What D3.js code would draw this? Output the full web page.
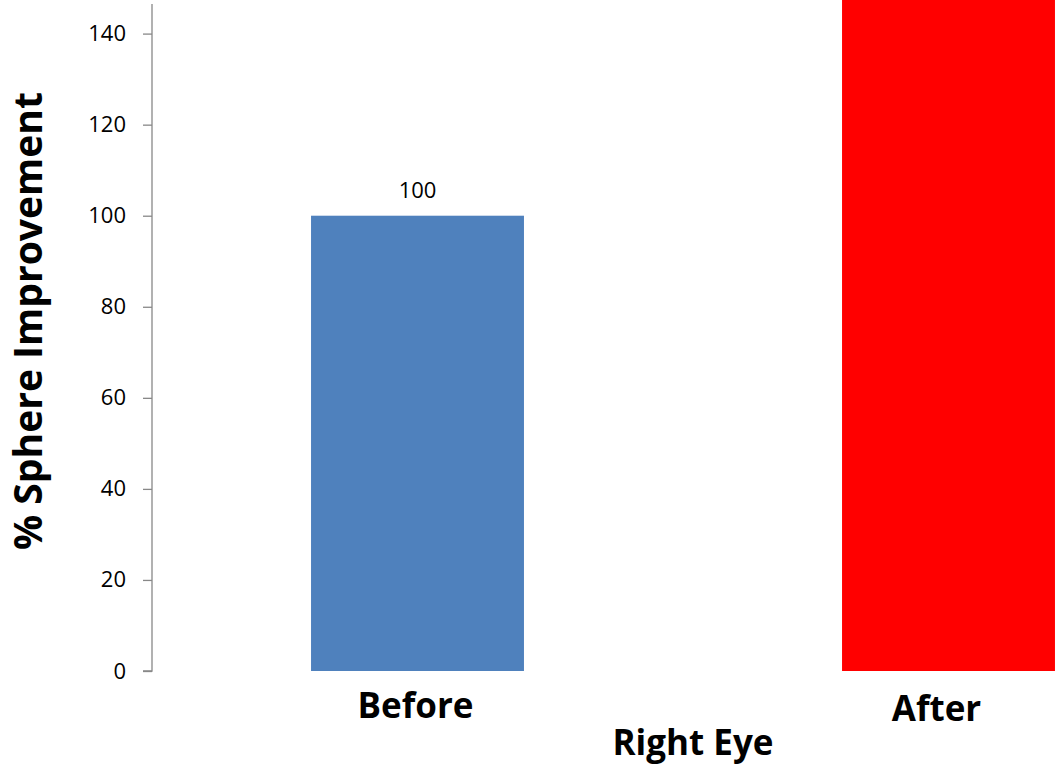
<!DOCTYPE html>
<html>
<head>
<meta charset="utf-8">
<script src="https://cdn.jsdelivr.net/npm/d3@7"></script>
<style>
  html, body { margin: 0; padding: 0; background: #fff; }
  svg { display: block; }
  text { font-family: "Open Sans", "Liberation Sans", sans-serif; fill: #000; }
</style>
</head>
<body>
<svg id="chart" width="1058" height="765"></svg>
<script>
// Data
const categories = ["Before", "After"];
const values = [100, 200];            // After bar exceeds the visible axis range
const barColors = ["#4F81BD", "#FF0000"];
const yTicks = [0, 20, 40, 60, 80, 100, 120, 140];
const dataLabels = ["100", ""];
const yTitle = "% Sphere Improvement";
const xTitle = "Right Eye";

const svg = d3.select("#chart");

const plotLeft = 152, plotBottom = 671, plotTop = 4;
const x = d3.scaleBand()
  .domain(categories)
  .range([plotLeft, plotLeft + 1062])
  .paddingInner(0.599)
  .paddingOuter(0.2995);

const y = d3.scaleLinear()
  .domain([0, 146.5])
  .range([plotBottom, plotTop]);

// Bars
svg.append("g").selectAll("rect")
  .data(categories)
  .join("rect")
  .attr("x", d => x(d))
  .attr("width", x.bandwidth())
  .attr("y", (d, i) => y(values[i]))
  .attr("height", (d, i) => y(0) - y(values[i]))
  .attr("fill", (d, i) => barColors[i]);

// Y axis
const yAxis = d3.axisLeft(y)
  .tickValues(yTicks)
  .tickSize(9)
  .tickPadding(17)
  .tickFormat(d3.format("d"));
const gy = svg.append("g")
  .attr("transform", `translate(${plotLeft},0)`)
  .call(yAxis);
gy.select(".domain").attr("stroke", "#888").attr("stroke-width", 1.3)
  .attr("d", `M0,${plotTop}V${plotBottom}H-9`);
gy.selectAll(".tick line").attr("stroke", "#888").attr("stroke-width", 1.3);
gy.selectAll(".tick text")
  .style("font-family", "'Open Sans', sans-serif")
  .style("font-size", "22px")
  .attr("fill", "#000");

// Data labels
svg.append("g").selectAll("text")
  .data(categories)
  .join("text")
  .attr("x", d => x(d) + x.bandwidth() / 2)
  .attr("y", (d, i) => y(values[i]) - 18)
  .attr("text-anchor", "middle")
  .style("font-size", "22px")
  .text((d, i) => dataLabels[i]);

// Category labels
const labelDx = [-2, -12];
const labelY = [718, 721];
svg.append("g").selectAll("text")
  .data(categories)
  .join("text")
  .attr("x", (d, i) => x(d) + x.bandwidth() / 2 + labelDx[i])
  .attr("y", (d, i) => labelY[i])
  .attr("text-anchor", "middle")
  .style("font-size", "35px")
  .style("font-weight", "bold")
  .text(d => d);

// X axis title
svg.append("text")
  .attr("x", 693)
  .attr("y", 755)
  .attr("text-anchor", "middle")
  .style("font-size", "35px")
  .style("font-weight", "bold")
  .text(xTitle);

// Y axis title
svg.append("text")
  .attr("transform", "translate(42,321) rotate(-90)")
  .attr("text-anchor", "middle")
  .style("font-size", "39px")
  .style("font-weight", "bold")
  .text(yTitle);
</script>
</body>
</html>
